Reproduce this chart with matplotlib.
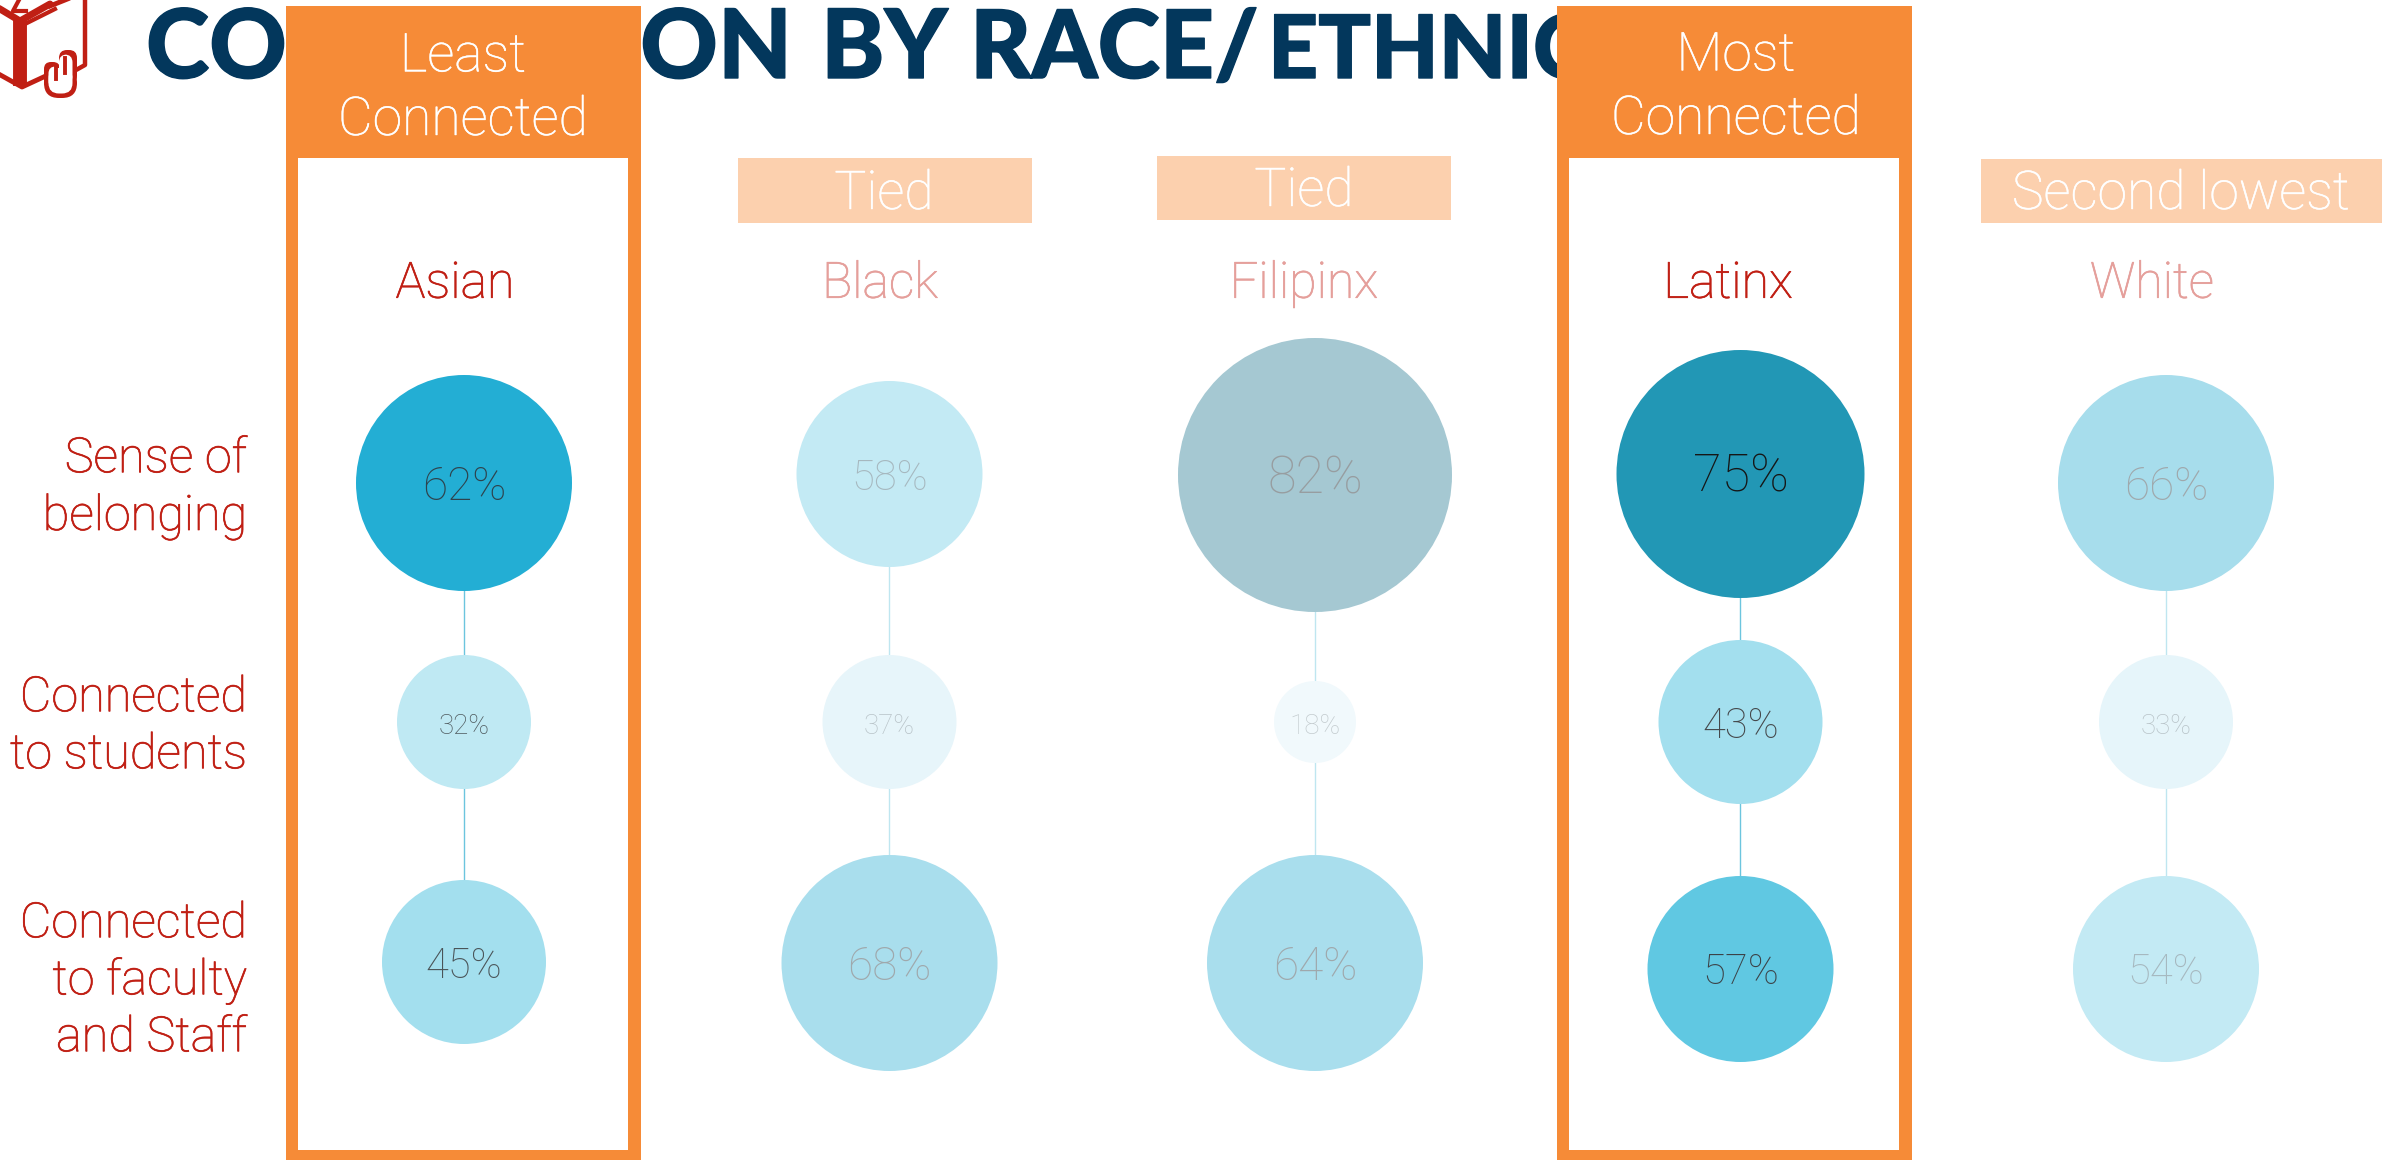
import matplotlib
matplotlib.use('Agg')
import matplotlib.pyplot as plt
import matplotlib.patheffects as pe
from matplotlib.patches import Circle, Rectangle, FancyBboxPatch

# data
groups = ['Asian', 'Black', 'Filipinx', 'Latinx', 'White']
belonging = [62, 58, 82, 75, 66]
to_students = [32, 37, 18, 43, 33]
to_faculty = [45, 68, 64, 57, 54]
row_labels = ['Sense of\nbelonging', 'Connected\nto students', 'Connected\nto faculty\nand Staff']
badges = ['Least\nConnected', 'Tied', 'Tied', 'Most\nConnected', 'Second lowest']
highlighted = [True, False, False, True, False]
title_parts = ['CONNECTION', 'BY', 'RACE/', 'ETHNICITY']

# layout, in pixels of the 2390x1160 picture
W, H = 2390, 1160
X0, STEP = 464, 425.5
top_y = [483, 474, 475, 474, 483]
mid_y = [722, 722, 722, 722, 722]
low_y = [962, 963, 963, 969, 969]
name_x = [455, 880, 1304, 1728, 2152]
label_y = [[459, 517], [698, 755], [924, 981, 1038]]

ORANGE = '#F68B37'
PEACH = '#FCD0AE'
RED = '#C01F14'
NAVY = '#03375C'
LINE = '#6CC5DE'
LABEL_FONT = ['Roboto', 'DejaVu Sans']
TITLE_FONT = ['Lato', 'DejaVu Sans']

# fill and number colours for each value
fills = {62: '#23AED4', 32: '#BFE9F3', 45: '#A3DFEE',
         58: '#C3EAF4', 37: '#E7F5FA', 68: '#A9DEED',
         82: '#A5C8D2', 18: '#F1F9FC', 64: '#A9DEED',
         75: '#2297B5', 43: '#A3DFEE', 57: '#60C8E2',
         66: '#A7DDEC', 33: '#E6F5FA', 54: '#C3EAF4'}
inks = {62: '#2E434D', 32: '#4F5A5E', 45: '#4A5458',
        58: '#A6B8BF', 37: '#B8C3C8', 68: '#9FA8AC',
        82: '#979DA0', 18: '#C4CCCF', 64: '#9FA8AC',
        75: '#161616', 43: '#45484B', 57: '#3C4247',
        66: '#9FA8AC', 33: '#B8C3C8', 54: '#A6B8BF'}


def bubble_radius(v):
    # the bubbles come in steps, not a smooth scale
    for limit, r in [(18, 41), (37, 67), (45, 82), (58, 93), (68, 108), (75, 124)]:
        if v <= limit:
            return r
    return 137


def value_size(v):
    for limit, s in [(37, 20), (58, 30), (68, 33)]:
        if v <= limit:
            return s
    return 37.5


def heavier(color, width=0.5):
    return [pe.withStroke(linewidth=width, foreground=color)]


def round_box(ax, x0, y0, x1, y1, r, color, z):
    ax.add_patch(FancyBboxPatch((x0, y0), x1 - x0, y1 - y0,
                                boxstyle=f'round,pad=0,rounding_size={r}',
                                fc=color, ec='none', zorder=z))


def draw_icon(ax):
    # red book with a raised hand, cut off by the corner of the picture
    ax.plot([-5, 20, 50], [6, 21, 4], color=RED, lw=5, solid_capstyle='round', zorder=2)
    ax.plot([50, 85], [6, -8], color=RED, lw=3.5, zorder=2)
    ax.plot([-5, 22, 50], [72, 87, 74], color=RED, lw=3.5, solid_capstyle='round', zorder=2)
    ax.plot([20, 20], [20, 86], color=RED, lw=10, solid_capstyle='butt', zorder=2)
    ax.plot([85, 85, 76], [-5, 65, 70], color=RED, lw=3.2, solid_joinstyle='round', zorder=2)
    ax.plot([27, 55], [23, 9], color=RED, lw=3, zorder=2)
    ax.plot([20, 13, 26], [-2, 11, 11], color=RED, lw=3, zorder=2)
    # hand: red shapes with white ones set inside them
    for inset, color, z in [(0, RED, 3), (4.5, 'white', 4)]:
        round_box(ax, 44 + inset, 68, 77 - inset, 98 - inset, 15 - inset, color, z)
        round_box(ax, 44 + inset, 62 + inset, 60, 88, 7, color, z)
        round_box(ax, 59, 50 + inset, 77 - inset, 84, 8, color, z)
    ax.plot([56, 56], [66, 79], color=RED, lw=2.8, zorder=5)
    ax.plot([65, 65], [58, 73], color=RED, lw=2.8, zorder=5)


fig = plt.figure(figsize=(W / 100, H / 100), dpi=100)
ax = fig.add_axes([0, 0, 1, 1])
ax.set_xlim(0, W)
ax.set_ylim(H, 0)
ax.axis('off')

draw_icon(ax)
for txt, x, size in zip(title_parts, [146, 821, 970, 1268], [69, 69, 68, 63]):
    ax.text(x, 78, txt, family=TITLE_FONT, weight='black', fontsize=size, color=NAVY,
            ha='left', va='baseline', zorder=1, path_effects=heavier(NAVY, 1))

# orange frames around the two highlighted groups
frame_x = {0: 463.5, 3: 1734.5}
for i, on in enumerate(highlighted):
    if on:
        ax.add_patch(Rectangle((frame_x[i] - 177.5, 6), 355, H, fc=ORANGE, ec='none', zorder=5))
        ax.add_patch(Rectangle((frame_x[i] - 165, 158), 330, 992, fc='white', ec='none', zorder=6))

# badges on top of each column
badge_x = [463, 884, 1304, 1736, 2181]
badge_base = [135, 209, 206, 134, 209]
peach_boxes = {1: (738, 158, 294, 65), 2: (1157, 156, 294, 64), 4: (1981, 159, 401, 64)}
for i, txt in enumerate(badges):
    if i in peach_boxes:
        ax.add_patch(Rectangle(peach_boxes[i][:2], peach_boxes[i][2], peach_boxes[i][3],
                               fc=PEACH, ec='none', zorder=7))
    ax.text(badge_x[i], badge_base[i], txt, family=LABEL_FONT, weight='light', fontsize=38.5,
            color='white', ha='center', va='baseline', linespacing=1.3, zorder=8,
            multialignment='center', path_effects=heavier('white', 0.3))

# group names
for i, g in enumerate(groups):
    c = RED if highlighted[i] else '#E59F9B'
    ax.text(name_x[i], 284, g, family=LABEL_FONT, weight='light', fontsize=36, ha='center',
            va='center', color=c, zorder=8, path_effects=heavier(c))

# row labels
for lines, ys in zip(row_labels, label_y):
    for line, y in zip(lines.split('\n'), ys):
        ax.text(247, y, line, family=LABEL_FONT, weight='light', fontsize=35, color=RED,
                ha='right', va='center', path_effects=heavier(RED))

# bubbles and connectors
for i in range(len(groups)):
    x = X0 + STEP * i
    ys = [top_y[i], mid_y[i], low_y[i]]
    vals = [belonging[i], to_students[i], to_faculty[i]]
    ax.plot([x, x], [ys[0], ys[2]], color=LINE if highlighted[i] else '#BFE6F0', lw=1, zorder=7)
    for v, y in zip(vals, ys):
        ax.add_patch(Circle((x, y), bubble_radius(v), fc=fills[v], ec='none', zorder=8))
        ax.text(x, y + 4, f'{v}%', family=LABEL_FONT, weight='light', fontsize=value_size(v),
                color=inks[v], ha='center', va='center', zorder=9)

fig.savefig('out.png', dpi=100, facecolor='white')
